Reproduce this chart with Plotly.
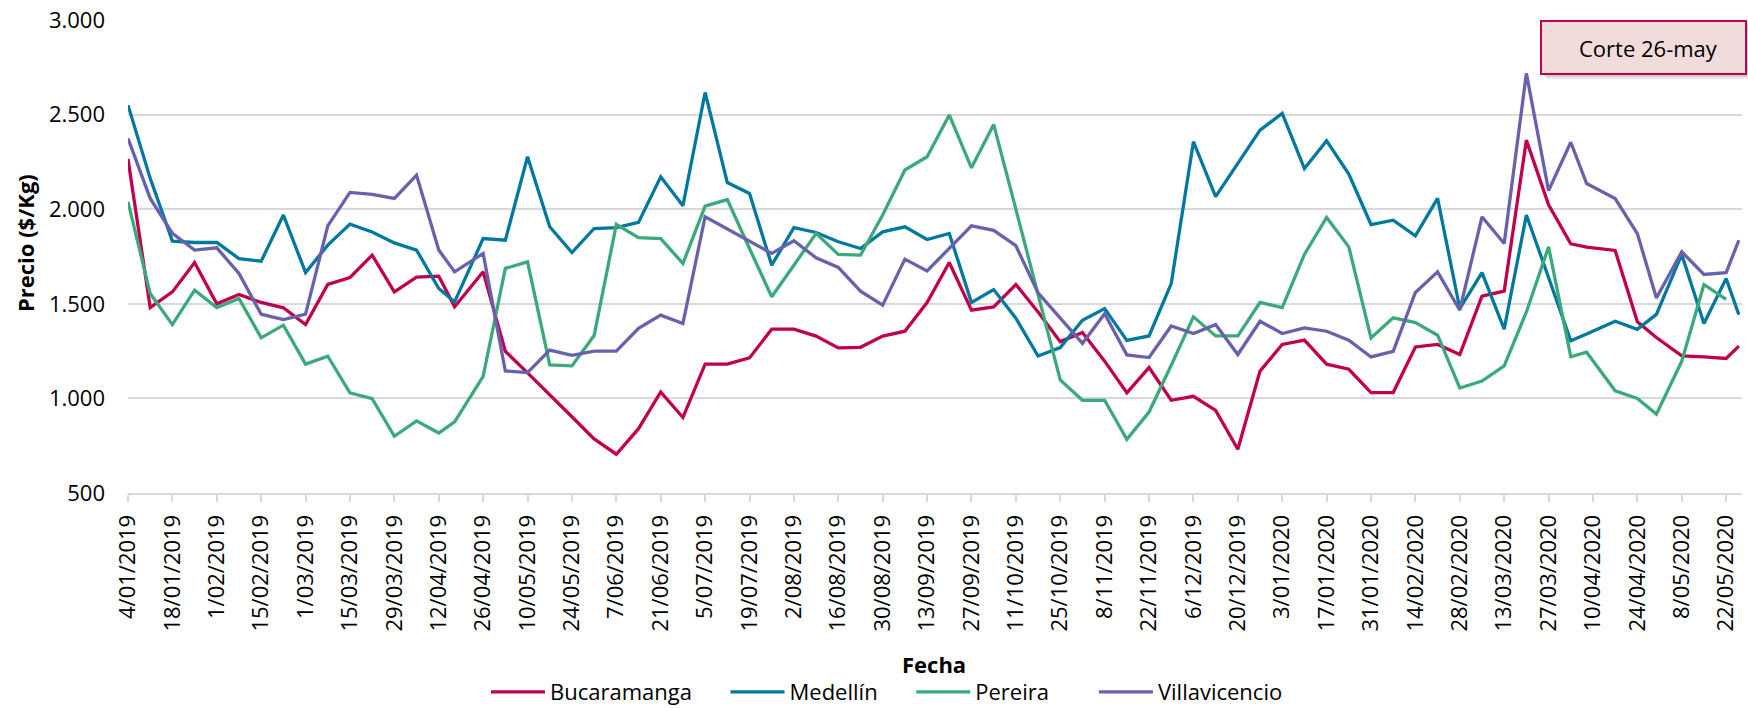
import plotly.graph_objects as go

# ---- data ----
fechas = [
    "2019-01-04", "2019-01-11", "2019-01-18", "2019-01-25", "2019-02-01", "2019-02-08",
    "2019-02-15", "2019-02-22", "2019-03-01", "2019-03-08", "2019-03-15", "2019-03-22",
    "2019-03-29", "2019-04-05", "2019-04-12", "2019-04-17", "2019-04-26", "2019-05-03",
    "2019-05-10", "2019-05-17", "2019-05-24", "2019-05-31", "2019-06-07", "2019-06-14",
    "2019-06-21", "2019-06-28", "2019-07-05", "2019-07-12", "2019-07-19", "2019-07-26",
    "2019-08-02", "2019-08-09", "2019-08-16", "2019-08-23", "2019-08-30", "2019-09-06",
    "2019-09-13", "2019-09-20", "2019-09-27", "2019-10-04", "2019-10-11", "2019-10-18",
    "2019-10-25", "2019-11-01", "2019-11-08", "2019-11-15", "2019-11-22", "2019-11-29",
    "2019-12-06", "2019-12-13", "2019-12-20", "2019-12-27", "2020-01-03", "2020-01-10",
    "2020-01-17", "2020-01-24", "2020-01-31", "2020-02-07", "2020-02-14", "2020-02-21",
    "2020-02-28", "2020-03-06", "2020-03-13", "2020-03-20", "2020-03-27", "2020-04-03",
    "2020-04-08", "2020-04-17", "2020-04-24", "2020-04-30", "2020-05-08", "2020-05-15",
    "2020-05-22", "2020-05-26",
]

bucaramanga = [
    2265, 1480, 1563, 1718, 1500, 1549, 1507, 1479, 1390, 1602, 1639, 1757,
    1563, 1641, 1646, 1484, 1669, 1249, 1135, 1022, 903, 786, 705, 840,
    1034, 899, 1181, 1181, 1214, 1366, 1366, 1329, 1267, 1270, 1329, 1355,
    1507, 1718, 1466, 1484, 1602, 1457, 1300, 1348, 1197, 1030, 1163, 990,
    1011, 937, 731, 1144, 1285, 1308, 1181, 1154, 1031, 1031, 1272, 1285,
    1232, 1540, 1567, 2365, 2023, 1817, 1800, 1782, 1405, 1322, 1225, 1219,
    1211, 1276,
]

medellin = [
    2550, 2163, 1831, 1824, 1824, 1739, 1725, 1969, 1665, 1810, 1921, 1880,
    1822, 1784, 1581, 1510, 1845, 1836, 2277, 1907, 1771, 1898, 1903, 1930,
    2171, 2018, 2617, 2141, 2083, 1704, 1903, 1877, 1828, 1792, 1880, 1907,
    1840, 1872, 1507, 1575, 1424, 1224, 1269, 1413, 1475, 1307, 1330, 1607,
    2357, 2066, 2242, 2418, 2506, 2215, 2362, 2186, 1919, 1942, 1859, 2057,
    1475, 1665, 1366, 1969, 1639, 1305, 1340, 1408, 1365, 1444, 1761, 1396,
    1634, 1443,
]

pereira = [
    2039, 1554, 1390, 1572, 1480, 1528, 1320, 1387, 1181, 1223, 1029, 999,
    800, 881, 817, 876, 1117, 1687, 1722, 1177, 1172, 1332, 1920, 1850,
    1845, 1713, 2016, 2051, 1792, 1537, 1704, 1872, 1761, 1757, 1969, 2207,
    2277, 2498, 2219, 2448, 2000, 1553, 1098, 990, 990, 784, 928, 1175,
    1431, 1330, 1330, 1507, 1480, 1761, 1956, 1801, 1320, 1426, 1401, 1334,
    1055, 1092, 1172, 1457, 1801, 1220, 1244, 1040, 1000, 917, 1196, 1602,
    1524, None,
]

villavicencio = [
    2374, 2057, 1872, 1784, 1796, 1660, 1445, 1417, 1445, 1912, 2089, 2078,
    2057, 2180, 1784, 1669, 1766, 1145, 1136, 1255, 1228, 1250, 1250, 1370,
    1440, 1396, 1960, 1895, 1828, 1766, 1833, 1743, 1692, 1567, 1493, 1736,
    1674, 1792, 1912, 1888, 1807, 1558, 1423, 1291, 1447, 1230, 1216, 1383,
    1343, 1390, 1232, 1408, 1343, 1373, 1355, 1308, 1219, 1249, 1560, 1669,
    1466, 1960, 1819, 2718, 2098, 2354, 2136, 2056, 1871, 1531, 1775, 1655,
    1665, 1836,
]

series_names = ["Bucaramanga", "Medellín", "Pereira", "Villavicencio"]
series_values = [bucaramanga, medellin, pereira, villavicencio]
series_colors = ["#C0004E", "#00789F", "#3BA97A", "#6862AC"]

y_title = "Precio ($/Kg)"
x_title = "Fecha"
nota = "Corte 26-may"

FONT = "Open Sans, Segoe UI, DejaVu Sans, sans-serif"

# pixel -> paper helpers (plot area: x 128..1742, y 20..493)
L, R, T, B = 128, 1742, 20, 493
def px(x):
    return (x - L) / (R - L)
def py(y):
    return (B - y) / (B - T)

# legend labels padded on the right so the entries spread like the original
pads = [5, 5, 7, 0]
legend_labels = [n + "\u00a0" * p for n, p in zip(series_names, pads)]

# ---- figure ----
fig = go.Figure()
for name, lab, vals, col in zip(series_names, legend_labels, series_values, series_colors):
    fig.add_trace(go.Scatter(
        x=fechas, y=vals, name=lab, mode="lines",
        line=dict(color=col, width=3.3),
        hovertemplate=name + ": %{y:,d}<extra></extra>",
    ))

fig.update_layout(
    width=1748, height=708,
    template="none",
    separators=",.",
    paper_bgcolor="white", plot_bgcolor="white",
    margin=dict(l=L, r=1748 - R, t=T, b=708 - B, autoexpand=False),
    font=dict(family=FONT, size=22, color="#000000"),
    showlegend=True,
    legend=dict(
        orientation="h", x=px(486), xanchor="left", y=py(692), yanchor="middle",
        font=dict(size=22, color="#000000"), bgcolor="rgba(0,0,0,0)",
        itemwidth=54, traceorder="normal",
    ),
    xaxis=dict(
        type="date",
        range=["2019-01-04", "2020-05-27"],
        tick0="2019-01-04", dtick=14 * 24 * 3600 * 1000,
        tickformat="%-d/%m/%Y", tickangle=-90,
        ticks="outside", ticklen=7, tickwidth=2, tickcolor="#D9D9D9",
        showline=True, linecolor="#D9D9D9", linewidth=2,
        showgrid=False, zeroline=False,
        tickfont=dict(size=22, color="#000000"),
        ticklabelstandoff=4,
    ),
    yaxis=dict(
        range=[500, 3000], dtick=500, tick0=500,
        tickformat=",d",
        showgrid=True, gridcolor="#D9D9D9", gridwidth=2,
        zeroline=False, showline=False, ticks="",
        tickfont=dict(size=22, color="#000000"),
        ticklabelstandoff=22,
    ),
)

# axis titles as annotations (positioned like the original)
fig.add_annotation(
    text="<b>" + y_title + "</b>", xref="paper", yref="paper",
    x=px(25), y=py(243), textangle=-90, showarrow=False,
    xanchor="center", yanchor="middle", font=dict(size=22, color="#000000"),
)
fig.add_annotation(
    text="<b>" + x_title + "</b>", xref="paper", yref="paper",
    x=px(934), y=py(664), showarrow=False,
    xanchor="center", yanchor="middle", font=dict(size=22, color="#000000"),
)

# "Corte" label box with soft shadow
bx0, bx1, by0, by1 = 1541, 1746, 21, 74
for off, alpha in ((5, 0.08), (3, 0.12)):
    fig.add_shape(
        type="rect", xref="paper", yref="paper", layer="above",
        x0=px(bx0 + off), x1=px(bx1 + off), y0=py(by1 + off), y1=py(by0 + off),
        line=dict(width=0), fillcolor="rgba(0,0,0,%s)" % alpha,
    )
fig.add_shape(
    type="rect", xref="paper", yref="paper", layer="above",
    x0=px(bx0), x1=px(bx1), y0=py(by1), y1=py(by0),
    line=dict(color="#C0004E", width=2), fillcolor="#F2DCDB",
)
fig.add_annotation(
    text=nota, xref="paper", yref="paper",
    x=px((bx0 + bx1) / 2 + 5), y=py((by0 + by1) / 2), showarrow=False,
    xanchor="center", yanchor="middle", font=dict(size=22, color="#000000"),
)

fig.write_html(
    "out.html",
    config={"displayModeBar": False},
    post_script="document.body.style.margin='0';document.body.style.overflow='hidden';",
)
